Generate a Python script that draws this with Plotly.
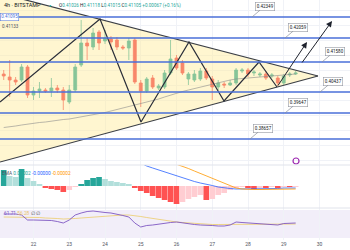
import numpy as np
import plotly.graph_objects as go

# ---------------- data ----------------
times = 21 + np.arange(1, 51) / 6  # 4h candles, x in day-of-month units

opens = [0.4106,0.4103,0.4100,0.4100,0.4113,0.4085,0.4089,0.4090,0.4089,0.4092,
         0.4090,0.4078,0.4090,0.4115,0.4137,0.4133,0.4148,0.4139,0.4141,0.4140,
         0.4133,0.4132,0.4140,0.4097,0.4089,0.4102,0.4092,0.4093,0.4107,0.4122,
         0.4117,0.4101,0.4100,0.4101,0.4109,0.4101,0.4093,0.4096,0.4095,0.4097,
         0.4109,0.4110,0.4107,0.4105,0.4106,0.4104,0.4102,0.4097,0.4105,0.4106]
closes = [0.4104,0.4100,0.4098,0.4113,0.4085,0.4089,0.4091,0.4089,0.4092,0.4090,
          0.4080,0.4090,0.4113,0.4137,0.4134,0.4147,0.4137,0.4142,0.4138,0.4133,
          0.4132,0.4139,0.4098,0.4089,0.4101,0.4093,0.4094,0.4107,0.4121,0.4112,
          0.4107,0.4106,0.4106,0.4109,0.4102,0.4093,0.4097,0.4095,0.4097,0.4110,
          0.4110,0.4106,0.4108,0.4106,0.4102,0.4105,0.4097,0.4104,0.4106,0.4107]
highs = [0.4110,0.4120,0.4103,0.4116,0.4115,0.4093,0.4098,0.4092,0.4102,0.4095,
         0.4093,0.4095,0.4116,0.4160,0.4142,0.4152,0.4150,0.4150,0.4144,0.4143,
         0.4135,0.4142,0.4142,0.4100,0.4103,0.4105,0.4096,0.4110,0.4140,0.4125,
         0.4120,0.4108,0.4110,0.4112,0.4112,0.4104,0.4100,0.4098,0.4100,0.4112,
         0.4112,0.4112,0.4110,0.4108,0.4109,0.4107,0.4104,0.4106,0.4108,0.4109]
lows = [0.4100,0.4083,0.4095,0.4098,0.4082,0.4080,0.4082,0.4087,0.4083,0.4087,
        0.4070,0.4076,0.4088,0.4113,0.4120,0.4130,0.4130,0.4136,0.4130,0.4130,
        0.4130,0.4120,0.4096,0.4073,0.4087,0.4091,0.4090,0.4091,0.4105,0.4110,
        0.4105,0.4095,0.4098,0.4099,0.4100,0.4080,0.4090,0.4092,0.4094,0.4095,
        0.4107,0.4103,0.4104,0.4103,0.4100,0.4102,0.4094,0.4095,0.4103,0.4105]
ma_line = [0.40525,0.4053,0.4054,0.4055,0.4056,0.4057,0.40575,0.4058,0.4059,0.4060,
           0.40605,0.4061,0.4062,0.4063,0.4064,0.4065,0.4066,0.40675,0.4069,0.40705,
           0.4072,0.40735,0.4075,0.4076,0.40775,0.4079,0.4081,0.4083,0.4085,0.4087,
           0.40885,0.4090,0.40915,0.4093,0.40945,0.4096,0.40975,0.4099,0.4100,0.4101,
           0.41015,0.4102,0.41025,0.4103,0.41035,0.4104,0.41045,0.4105,0.41055,0.4106]

# horizontal levels (position) and their printed labels
level_prices = [0.4163, 0.4142, 0.4118, 0.4088, 0.4067, 0.4041]
level_labels = ["0.42349", "0.42059", "0.41580", "0.40437", "0.39647", "0.38657"]
level_label_x = [28.112, 29.035, 30.070, 30.014, 29.035, 28.056]

# triangle (upper start, apex, lower start)
tri_x = [21.063, 29.958, 21.063]
tri_y = [0.41867, 0.4104, 0.4018]

# zigzag wave
zig_x = [21.063, 23.860, 25.007, 26.350, 27.329, 28.308, 28.811]
zig_y = [0.4078, 0.4161, 0.4058, 0.4138, 0.4079, 0.4118, 0.4093]
arrows = [((28.811, 0.4093), (29.650, 0.4138)),
          ((29.483, 0.4116), (30.350, 0.4159))]

# MACD
macd_hist = [0.00016,0.00010,0.00009,0.00017,0.00008,0.00005,0.00002,-0.00002,-0.00003,-0.00004,
             -0.00006,-0.00004,-0.00001,0.00002,0.00006,0.00008,0.00009,0.00007,0.00005,0.00004,
             0.00003,0.00002,-0.00002,-0.00005,-0.00007,-0.00010,-0.00012,-0.00014,-0.00016,-0.00018,
             -0.00016,-0.00013,-0.00011,-0.00009,-0.00014,-0.00013,-0.00009,-0.00007,-0.00004,-0.00002,
             -0.00001,-0.00002,-0.00003,-0.00002,-0.00002,-0.00001,-0.00002,-0.00001,-0.00001,-0.000005]
macd_line = [0.00036,0.00038,0.00039,0.00041,0.00040,0.00038,0.00036,0.00034,0.00033,0.00032,
             0.00030,0.00029,0.00030,0.00034,0.00038,0.00041,0.00043,0.00044,0.00044,0.00043,
             0.00040,0.00034,0.00026,0.00023,0.00020,0.00018,0.00016,0.00014,0.00012,0.00010,
             0.00008,0.00006,0.000045,0.00003,0.00002,0.000005,-0.00001,-0.00002,-0.000025,-0.00003,
             -0.00003,-0.00003,-0.00003,-0.00003,-0.000025,-0.000025,-0.000025,-0.00002,-0.00002,-0.00002]
signal_line = [0.00046,0.00047,0.00048,0.00049,0.00049,0.00049,0.00048,0.00047,0.00046,0.00045,
               0.00044,0.00043,0.00042,0.00041,0.00041,0.00041,0.00041,0.00041,0.00040,0.00039,
               0.00038,0.00036,0.00034,0.00032,0.00030,0.00029,0.00028,0.00026,0.00024,0.00022,
               0.00020,0.000175,0.00015,0.000125,0.00010,0.000075,0.00005,0.000025,0.0,-0.00002,
               -0.00003,-0.000035,-0.000035,-0.000035,-0.000035,-0.00003,-0.00003,-0.00003,-0.00003,-0.00003]

# RSI
rsi = [64.29,64.29,64.29,62.86,55.71,55.71,55.71,55.71,55.00,53.57,
       51.43,55.71,62.86,65.71,67.86,68.57,67.14,66.43,65.71,64.29,
       62.14,60.00,51.43,45.71,47.86,48.57,50.00,51.43,52.14,52.86,
       51.43,50.00,49.29,48.57,48.57,47.86,47.14,47.14,48.57,52.86,
       52.14,51.43,50.71,50.00,49.29,48.57,48.57,50.71,51.43,51.43]
rsi_ma = [60.00,60.00,60.00,60.00,60.00,59.29,59.29,58.57,58.57,57.86,
          57.14,57.14,57.86,58.57,59.29,60.00,60.71,61.43,62.14,62.86,
          62.86,62.86,62.14,60.71,59.29,57.86,56.43,55.00,53.57,52.86,
          52.14,51.43,50.71,50.00,50.00,49.29,49.29,49.29,49.29,49.29,
          50.00,50.00,50.00,50.00,50.00,50.00,50.00,50.00,50.00,50.00]

day_ticks = [22, 23, 24, 25, 26, 27, 28, 29, 30]
day_labels = ["22", "23", "24", "25", "26", "27", "28", "29", "30"]

# ---------------- figure ----------------
W, H = 350, 250
FONT = "Roboto"
fig = go.Figure()

fig.add_trace(go.Scatter(x=tri_x, y=tri_y, fill="toself", mode="lines",
                         fillcolor="rgba(255,234,150,0.45)", line=dict(width=0),
                         xaxis="x", yaxis="y", hoverinfo="skip"))
fig.add_trace(go.Scatter(x=times, y=ma_line, mode="lines",
                         line=dict(color="rgba(140,140,140,0.6)", width=1),
                         xaxis="x", yaxis="y"))
fig.add_trace(go.Candlestick(x=times, open=opens, high=highs, low=lows, close=closes,
                             increasing=dict(line=dict(color="#26a69a", width=0.8), fillcolor="#26a69a"),
                             decreasing=dict(line=dict(color="#f23645", width=0.8), fillcolor="#f23645"),
                             whiskerwidth=0, xaxis="x", yaxis="y"))
# triangle edges
fig.add_trace(go.Scatter(x=tri_x[:2], y=tri_y[:2], mode="lines",
                         line=dict(color="#3b3f46", width=1.2), xaxis="x", yaxis="y"))
fig.add_trace(go.Scatter(x=tri_x[1:], y=tri_y[1:], mode="lines",
                         line=dict(color="#3b3f46", width=1.2), xaxis="x", yaxis="y"))
fig.add_trace(go.Scatter(x=zig_x, y=zig_y, mode="lines",
                         line=dict(color="#2a2e39", width=1.2), xaxis="x", yaxis="y"))
fig.add_trace(go.Scatter(x=[29.343], y=[0.4019], mode="markers",
                         marker=dict(symbol="circle-open", size=6, color="#9c27b0",
                                     line=dict(width=1.2, color="#9c27b0")),
                         xaxis="x", yaxis="y"))

# MACD
hist_colors = []
for i, v in enumerate(macd_hist):
    prev = macd_hist[i - 1] if i > 0 else 0
    if v >= 0:
        hist_colors.append("#26a69a" if v >= prev else "#b2dfdb")
    else:
        hist_colors.append("#ff5252" if v <= prev else "#ffcdd2")
fig.add_trace(go.Bar(x=times, y=macd_hist, marker=dict(color=hist_colors, line=dict(width=0)),
                     xaxis="x", yaxis="y2"))
fig.add_trace(go.Scatter(x=times, y=macd_line, mode="lines",
                         line=dict(color="#2962ff", width=0.8), xaxis="x", yaxis="y2"))
fig.add_trace(go.Scatter(x=times, y=signal_line, mode="lines",
                         line=dict(color="#ff9800", width=0.8), xaxis="x", yaxis="y2"))

# RSI
fig.add_trace(go.Scatter(x=times, y=rsi_ma, mode="lines",
                         line=dict(color="rgba(235,200,90,0.9)", width=0.8), xaxis="x", yaxis="y3"))
fig.add_trace(go.Scatter(x=times, y=rsi, mode="lines",
                         line=dict(color="#7e57c2", width=0.9), xaxis="x", yaxis="y3"))

shapes = []
for lp in level_prices:
    shapes.append(dict(type="line", xref="paper", x0=0, x1=1, yref="y", y0=lp, y1=lp,
                       line=dict(color="#4a6fd8", width=1.6)))
shapes.append(dict(type="rect", xref="paper", x0=0, x1=1, yref="y3", y0=30, y1=70,
                   fillcolor="rgba(126,87,194,0.10)", line=dict(width=0), layer="below"))
for yp in [1 - 165 / H, 1 - 208 / H]:
    shapes.append(dict(type="line", xref="paper", x0=0, x1=1, yref="paper", y0=yp, y1=yp,
                       line=dict(color="#e0e3eb", width=1)))

annotations = []
for lab, lx, lp in zip(level_labels, level_label_x, level_prices):
    annotations.append(dict(x=lx, y=lp, xref="x", yref="y", text=lab, showarrow=True,
                            arrowhead=0, arrowwidth=0.7, arrowcolor="#8a8f99", ax=13, ay=-11,
                            font=dict(size=4.5, color="#131722", family=FONT),
                            bgcolor="white", bordercolor="#9598a1", borderwidth=0.6, borderpad=1.2))
for (x0, y0), (x1, y1) in arrows:
    annotations.append(dict(x=x1, y=y1, xref="x", yref="y", ax=x0, ay=y0, axref="x", ayref="y",
                            text="", showarrow=True, arrowhead=2, arrowsize=1.2, arrowwidth=1,
                            arrowcolor="#1e222d"))

def px(xpix):
    return xpix / W

def py(ypix):
    return 1 - ypix / H

annotations += [
    dict(x=px(2), y=py(5), xref="paper", yref="paper", xanchor="left", yanchor="middle",
         text="4h · BITSTAMP", showarrow=False, font=dict(size=5.5, color="#131722", family=FONT)),
    dict(x=px(50), y=py(5), xref="paper", yref="paper", xanchor="center", yanchor="middle",
         text="●", showarrow=False, font=dict(size=4, color="#26a69a", family=FONT)),
    dict(x=px(57), y=py(5), xref="paper", yref="paper", xanchor="left", yanchor="middle",
         text="O<span style='color:#26a69a'>0.41026</span> H<span style='color:#26a69a'>0.41118</span> "
              "L<span style='color:#26a69a'>0.41015</span> C<span style='color:#26a69a'>0.41105</span> "
              "<span style='color:#26a69a'>+0.00067 (+0.16%)</span>",
         showarrow=False, font=dict(size=4.6, color="#131722", family=FONT)),
    dict(x=px(0), y=py(16.5), xref="paper", yref="paper", xanchor="left", yanchor="middle",
         text="0.41095", showarrow=False, font=dict(size=4.5, color="#4a6fd8", family=FONT),
         bgcolor="white", bordercolor="#4a6fd8", borderwidth=0.5, borderpad=0.8),
    dict(x=px(0), y=py(27), xref="paper", yref="paper", xanchor="left", yanchor="middle",
         text="0.41133", showarrow=False, font=dict(size=4.5, color="#50535e", family=FONT)),
    dict(x=px(0), y=py(173), xref="paper", yref="paper", xanchor="left", yanchor="middle",
         text="EMA <span style='color:#26a69a'>0.00002</span> <span style='color:#2962ff'>-0.00000</span> "
              "<span style='color:#ff9800'>-0.00002</span>",
         showarrow=False, font=dict(size=4.8, color="#50535e", family=FONT)),
    dict(x=px(2), y=py(213), xref="paper", yref="paper", xanchor="left", yanchor="middle",
         text="<span style='color:#7e57c2'>61.71</span> <span style='color:#e9c46a'>56.28</span> ∅ ∅",
         showarrow=False, font=dict(size=4.8, color="#50535e", family=FONT)),
]

grid = "#f0f2f7"
fig.update_layout(
    width=W, height=H, margin=dict(l=0, r=0, t=0, b=0),
    paper_bgcolor="white", plot_bgcolor="white", showlegend=False,
    bargap=0.05,
    xaxis=dict(range=[21.063, 30.853], anchor="y3", tickmode="array", tickvals=day_ticks,
               ticktext=day_labels, tickfont=dict(size=5, color="#50535e", family=FONT),
               showgrid=True, gridcolor=grid, zeroline=False, showline=False, ticks="",
               rangeslider=dict(visible=False), fixedrange=True),
    yaxis=dict(domain=[1 - 165 / H, 1], range=[0.4015, 0.4180], anchor="x",
               showticklabels=False, showgrid=True, gridcolor=grid, dtick=0.0015, zeroline=False),
    yaxis2=dict(domain=[1 - 208 / H, 1 - 165 / H], range=[-0.00022, 0.00021], anchor="x",
                showticklabels=False, showgrid=False, zeroline=False),
    yaxis3=dict(domain=[1 - 240 / H, 1 - 208 / H], range=[27.14, 72.86], anchor="x",
                showticklabels=False, showgrid=False, zeroline=False),
    shapes=shapes, annotations=annotations,
)

fig.write_html("out.html")
